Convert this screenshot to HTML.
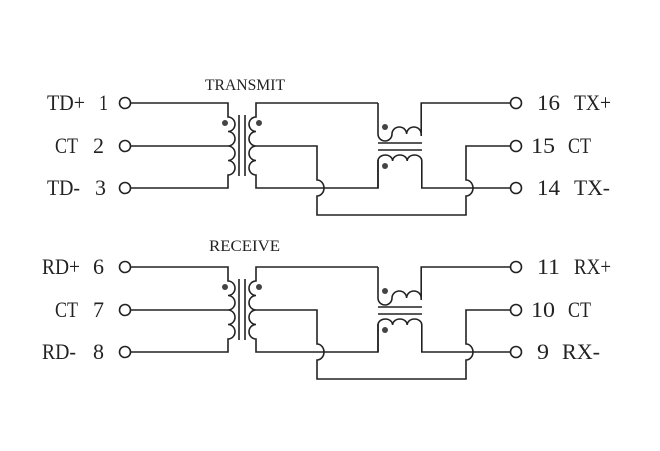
<!DOCTYPE html>
<html><head><style>
html,body{margin:0;padding:0;background:#fff;}
svg{display:block}
text{font-family:"Liberation Serif",serif;fill:#222}
</style></head><body>
<svg width="660" height="451" viewBox="0 0 660 451" xmlns="http://www.w3.org/2000/svg">
<defs>
<g id="blk" fill="none" stroke="#222" stroke-width="1.6">
  <circle cx="125" cy="103" r="5.5"/>
  <circle cx="125" cy="146" r="5.5"/>
  <circle cx="125" cy="188" r="5.5"/>
  <path d="M130.5 103H228V117a7 7.25 0 0 1 0 14.5a7 7.25 0 0 1 0 14.5a7 7.25 0 0 1 0 14.5a7 7.25 0 0 1 0 14.5V188H130.5"/>
  <path d="M130.5 146H228"/>
  <path d="M239 115V176M245 115V176"/>
  <path d="M378 103H256V117a7 7.25 0 0 0 0 14.5a7 7.25 0 0 0 0 14.5a7 7.25 0 0 0 0 14.5a7 7.25 0 0 0 0 14.5V188H378V160"/>
  <path d="M256 146H317V180a7 8 0 0 1 0 16V215H466V196a7 8 0 0 0 0-16V146H510.5"/>
  <path d="M378 103V134a7 7 0 0 0 14 0a7.3 7 0 0 1 14.6 0a7.3 7 0 0 1 14.6 0V134"/>
  <path d="M421.2 136V103H510.5"/>
  <path d="M378 143H422M378 150H422"/>
  <path d="M378 188V161a7.3 6 0 0 1 14.6 0a7.3 6 0 0 1 14.6 0a7.3 6 0 0 1 14.6 0V188H510.5"/>
  <circle cx="516" cy="103" r="5.5"/>
  <circle cx="516" cy="146" r="5.5"/>
  <circle cx="516" cy="188" r="5.5"/>
</g>
<g id="dots" fill="#444">
  <circle cx="225" cy="123" r="3"/>
  <circle cx="259" cy="123" r="3"/>
  <circle cx="385" cy="127" r="3"/>
  <circle cx="385" cy="166" r="3"/>
</g>
</defs>
<use href="#blk"/><use href="#dots"/>
<g transform="translate(0,164)"><use href="#blk"/><use href="#dots"/></g>

<g font-size="22">
<text x="47" y="110" textLength="38" lengthAdjust="spacingAndGlyphs">TD+</text>
<text x="99" y="110" textLength="9" lengthAdjust="spacingAndGlyphs">1</text>
<text x="55" y="153" textLength="23" lengthAdjust="spacingAndGlyphs">CT</text>
<text x="93" y="153" textLength="11" lengthAdjust="spacingAndGlyphs">2</text>
<text x="47" y="195" textLength="33" lengthAdjust="spacingAndGlyphs">TD-</text>
<text x="95" y="195" textLength="11" lengthAdjust="spacingAndGlyphs">3</text>
<text x="537" y="110" textLength="23" lengthAdjust="spacingAndGlyphs">16</text>
<text x="574" y="110" textLength="37" lengthAdjust="spacingAndGlyphs">TX+</text>
<text x="531" y="153" textLength="24" lengthAdjust="spacingAndGlyphs">15</text>
<text x="568" y="153" textLength="23" lengthAdjust="spacingAndGlyphs">CT</text>
<text x="537" y="195" textLength="23" lengthAdjust="spacingAndGlyphs">14</text>
<text x="574" y="195" textLength="36" lengthAdjust="spacingAndGlyphs">TX-</text>

<text x="42" y="274" textLength="38" lengthAdjust="spacingAndGlyphs">RD+</text>
<text x="93" y="274" textLength="11" lengthAdjust="spacingAndGlyphs">6</text>
<text x="55" y="317" textLength="23" lengthAdjust="spacingAndGlyphs">CT</text>
<text x="93" y="317" textLength="11" lengthAdjust="spacingAndGlyphs">7</text>
<text x="42" y="359" textLength="34" lengthAdjust="spacingAndGlyphs">RD-</text>
<text x="93" y="359" textLength="11" lengthAdjust="spacingAndGlyphs">8</text>
<text x="537" y="274" textLength="23" lengthAdjust="spacingAndGlyphs">11</text>
<text x="574" y="274" textLength="37" lengthAdjust="spacingAndGlyphs">RX+</text>
<text x="531" y="317" textLength="24" lengthAdjust="spacingAndGlyphs">10</text>
<text x="568" y="317" textLength="23" lengthAdjust="spacingAndGlyphs">CT</text>
<text x="537" y="359" textLength="12" lengthAdjust="spacingAndGlyphs">9</text>
<text x="562" y="359" textLength="38" lengthAdjust="spacingAndGlyphs">RX-</text>
</g>
<text x="205" y="90" font-size="16" textLength="80" lengthAdjust="spacingAndGlyphs">TRANSMIT</text>
<text x="209" y="251" font-size="16" textLength="71" lengthAdjust="spacingAndGlyphs">RECEIVE</text>
</svg>
</body></html>
